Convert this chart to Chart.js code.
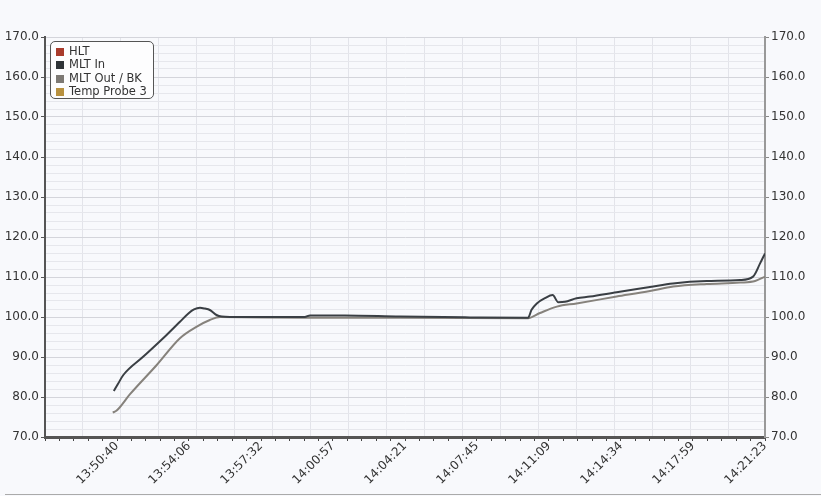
<!DOCTYPE html>
<html>
<head>
<meta charset="utf-8">
<script src="https://cdn.jsdelivr.net/npm/chart.js@4.4.1/dist/chart.umd.min.js"></script>
<style>
  html, body { margin: 0; padding: 0; background: #f8f9fc; }
  #wrap { position: relative; width: 821px; height: 496px; }
  #legend {
    position: absolute; left: 50px; top: 41px; width: 102px; height: 56px;
    border: 1px solid #555; border-radius: 5px; background: #fdfdfe;
    font: 11.5px "DejaVu Sans", sans-serif; color: #333;
  }
  #legend div { position: absolute; left: 5px; height: 13px; line-height: 13px; white-space: nowrap; }
  #legend span { display: inline-block; width: 8px; height: 8px; margin-right: 5px; vertical-align: -1px; }
  #baseline { position: absolute; left: 5px; right: 0; top: 494px; height: 1px; background: #aaa; }
</style>
</head>
<body>
<div id="wrap">
  <canvas id="chart" width="821" height="496"></canvas>
  <div id="legend"></div>
  <div id="baseline"></div>
</div>
<script>
const seriesNames = ['HLT', 'MLT In', 'MLT Out / BK', 'Temp Probe 3'];
const legendColors = ['#a93b2c', '#2f3438', '#7d7974', '#b8913f'];
const lineColors = ['#a93b2c', '#3a3f44', '#86827c', '#b8913f'];

const xTickLabels = ['13:50:40', '13:54:06', '13:57:32', '14:00:57', '14:04:21',
  '14:07:45', '14:11:09', '14:14:34', '14:17:59', '14:21:23'];

const hltTimes = [];
const hltValues = [];

const mltInTimes = ['13:50:31', '13:50:43', '13:50:58', '13:51:55', '13:53:01', '13:53:39',
  '13:54:03', '13:54:19', '13:54:36', '13:54:50', '13:55:04', '13:55:23', '13:55:38',
  '13:56:01', '13:59:34', '13:59:49', '14:01:28', '14:04:05', '14:07:24', '14:10:09',
  '14:10:19', '14:10:34', '14:10:57', '14:11:19', '14:11:35', '14:11:54', '14:12:27',
  '14:13:05', '14:14:21', '14:15:56', '14:17:01', '14:18:37', '14:20:12', '14:20:49',
  '14:21:09', '14:21:23'];
const mltInValues = [81.5, 83.3, 85.5, 90.1, 95.5, 98.8,
  100.9, 101.9, 102.3, 102.1, 101.75, 100.5, 100.1,
  100.0, 100.0, 100.4, 100.4, 100.1, 99.9, 99.8,
  101.8, 103.4, 104.7, 105.5, 103.7, 103.8, 104.7,
  105.1, 106.2, 107.5, 108.4, 109.0, 109.25, 110.1,
  113.4, 115.9];

const mltOutTimes = ['13:50:28', '13:50:39', '13:51:17', '13:52:33', '13:53:39', '13:54:27',
  '13:55:04', '13:55:33', '13:59:34', '14:04:05', '14:10:09', '14:10:43', '14:11:31',
  '14:12:27', '14:14:21', '14:15:56', '14:17:02', '14:18:37', '14:20:12', '14:20:55',
  '14:21:23'];
const mltOutValues = [76.1, 76.6, 80.7, 88.0, 94.7, 97.6,
  99.25, 100.0, 99.8, 99.8, 99.7, 101.0, 102.6,
  103.4, 105.1, 106.5, 107.6, 108.25, 108.6, 109.0,
  110.1];

const probe3Times = [];
const probe3Values = [];

function toSec(s) {
  const p = s.split(':').map(Number);
  return p[0] * 3600 + p[1] * 60 + p[2];
}
function toPoints(times, values) {
  return times.map((t, i) => ({ x: toSec(t), y: values[i] }));
}

const labelSecs = xTickLabels.map(toSec);
const step = (labelSecs[labelSecs.length - 1] - labelSecs[0]) / (labelSecs.length - 1);
const xMin = labelSecs[0] - step;
const xMax = labelSecs[labelSecs.length - 1];

const allSeries = [
  toPoints(hltTimes, hltValues),
  toPoints(mltInTimes, mltInValues),
  toPoints(mltOutTimes, mltOutValues),
  toPoints(probe3Times, probe3Values)
];

// legend
const leg = document.getElementById('legend');
seriesNames.forEach((n, i) => {
  const d = document.createElement('div');
  d.style.top = (3 + i * 13.3) + 'px';
  d.innerHTML = `<span style="background:${legendColors[i]}"></span>${n}`;
  leg.appendChild(d);
});

const font = { family: '"DejaVu Sans", sans-serif', size: 12 };

new Chart(document.getElementById('chart'), {
  type: 'line',
  data: {
    datasets: seriesNames.map((n, i) => ({
      label: n,
      data: allSeries[i],
      borderColor: lineColors[i],
      backgroundColor: lineColors[i],
      borderWidth: 2,
      pointRadius: 0,
      cubicInterpolationMode: 'monotone',
      order: i === 1 ? 0 : 1
    }))
  },
  options: {
    responsive: false,
    animation: false,
    layout: { padding: { top: 37, left: 0, right: 0, bottom: 0 } },
    plugins: { legend: { display: false }, tooltip: { enabled: false } },
    scales: {
      x: {
        type: 'linear',
        min: xMin,
        max: xMax,
        afterBuildTicks: scale => {
          const t = [];
          for (let k = 0; k <= 50; k++) t.push({ value: xMin + k * step / 5 });
          scale.ticks = t;
        },
        afterFit: scale => { scale.height = 59; },
        ticks: {
          autoSkip: false,
          minRotation: 45,
          maxRotation: 45,
          color: '#333',
          font: font,
          padding: -2,
          callback: (v, i) => (i > 0 && i % 5 === 0) ? xTickLabels[i / 5 - 1] : ''
        },
        grid: { drawOnChartArea: false, tickColor: '#444', tickLength: 4 },
        border: { color: '#555', width: 3 }
      },
      xg: {
        type: 'linear',
        position: 'bottom',
        min: xMin,
        max: xMax,
        afterBuildTicks: scale => {
          const t = [];
          const g = (xMax - xMin) * 38 / 720;
          for (let k = 1; k <= 18; k++) t.push({ value: xMin + k * g });
          scale.ticks = t;
        },
        afterFit: scale => { scale.height = 0; },
        ticks: { display: false },
        grid: { color: '#e3e4ea', drawTicks: false },
        border: { display: false }
      },
      y: {
        position: 'left',
        min: 70,
        max: 170,
        afterBuildTicks: scale => {
          const t = [];
          for (let v = 70; v <= 170; v += 2) t.push({ value: v });
          scale.ticks = t;
        },
        afterFit: scale => { scale.width = 45; },
        ticks: {
          autoSkip: false,
          color: '#333',
          font: font,
          padding: 2,
          callback: v => (v % 10 === 0) ? v.toFixed(1) : ''
        },
        grid: {
          color: ctx => (ctx.tick && ctx.tick.value % 10 === 0) ? '#d4d5db' : '#e6e7ec',
          tickColor: ctx => (ctx.tick && ctx.tick.value % 10 === 0) ? '#555' : 'rgba(0,0,0,0)',
          tickLength: 4
        },
        border: { color: '#555', width: 2 }
      },
      y2: {
        position: 'right',
        min: 70,
        max: 170,
        afterBuildTicks: scale => {
          const t = [];
          for (let v = 70; v <= 170; v += 2) t.push({ value: v });
          scale.ticks = t;
        },
        afterFit: scale => { scale.width = 56; },
        ticks: {
          autoSkip: false,
          color: '#333',
          font: font,
          padding: 2,
          callback: v => (v % 10 === 0) ? v.toFixed(1) : ''
        },
        grid: {
          drawOnChartArea: false,
          tickColor: ctx => (ctx.tick && ctx.tick.value % 10 === 0) ? '#888' : 'rgba(0,0,0,0)',
          tickLength: 4
        },
        border: { color: '#999', width: 2 }
      }
    }
  }
});
</script>
</body>
</html>
